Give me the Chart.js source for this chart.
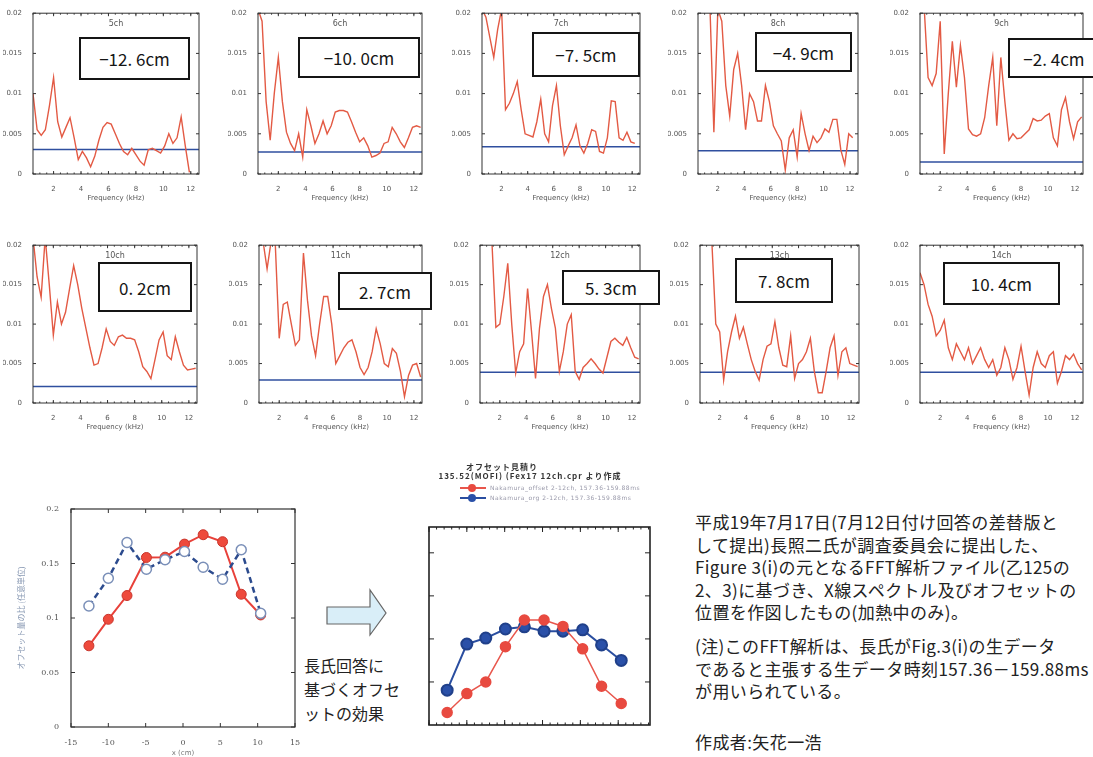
<!DOCTYPE html>
<html>
<head>
<meta charset="utf-8">
<script src="https://cdn.jsdelivr.net/npm/chart.js@4"></script>
<style>
  body { margin: 0; width: 1093px; height: 757px; background: #fff; position: relative; overflow: hidden; font-family: "Noto Sans CJK JP", sans-serif; }
  canvas { position: absolute; }
  .tag { position: absolute; border: 2.5px solid #151515; background: #fff; box-sizing: border-box; display: flex; align-items: center; justify-content: center; font-family: "Noto Sans CJK JP", sans-serif; font-size: 17px; color: #151515; white-space: nowrap; }
  .txt { position: absolute; color: #222; white-space: nowrap; }
  .note { left: 695px; font-size: 17px; line-height: 22.5px; letter-spacing: 0.4px; }
</style>
</head>
<body>

<svg style="position:absolute;left:320px;top:585px" width="75" height="55">
  <polygon points="7,22 50,22 50,5 66,28 50,50 50,39 7,39" fill="#d9eef8" stroke="#666" stroke-width="1.2"/>
</svg>

<div class="txt" style="left:304px;top:653px;font-size:16px;line-height:24px;">長氏回答に<br>基づくオフセ<br>ットの効果</div>

<div class="txt note" style="top:511px;">平成19年7月17日(7月12日付け回答の差替版と<br>して提出)長照二氏が調査委員会に提出した、<br>Figure 3(i)の元となるFFT解析ファイル(乙125の<br>2、3)に基づき、X線スペクトル及びオフセットの<br>位置を作図したもの(加熱中のみ)。</div>
<div class="txt note" style="top:635px;">(注)このFFT解析は、長氏がFig.3(i)の生データ<br>であると主張する生データ時刻157.36－159.88ms<br>が用いられている。</div>
<div class="txt note" style="top:731px;">作成者:矢花一浩</div>

<script>
// ---- spectra (amplitude in units of 1e-3) ----
const freqKHz = [0.5, 0.8, 1.1, 1.4, 1.7, 2.0, 2.3, 2.6, 2.9, 3.2, 3.5, 3.8, 4.1, 4.4, 4.7, 5.0, 5.3, 5.6, 5.9, 6.2, 6.5,
                 6.8, 7.1, 7.4, 7.7, 8.0, 8.3, 8.6, 8.9, 9.2, 9.5, 9.8, 10.1, 10.4, 10.7, 11.0, 11.3, 11.6, 11.9, 12.2, 12.5];

const ch5  = [10.0, 5.5, 4.8, 5.5, 8.5, 12.0, 6.5, 4.6, 5.8, 7.0, 4.5, 1.8, 2.8, 2.0, 0.9, 2.2, 4.2, 5.8, 6.4, 6.2, 5.0,
              3.8, 2.8, 2.4, 3.2, 2.4, 1.6, 1.1, 3.0, 3.2, 2.9, 2.6, 3.5, 5.0, 3.8, 4.5, 7.1, 3.5, 0.2, null, null];
const ch6  = [20.5, 19.0, 9.0, 4.2, 10.0, 14.5, 9.0, 5.2, 3.8, 2.9, 5.0, 2.1, 8.0, 6.0, 3.8, 5.0, 6.6, 5.0, 6.0, 7.7, 7.9,
              7.9, 7.7, 6.5, 5.2, 4.0, 4.5, 3.5, 2.1, 2.3, 2.6, 3.8, 4.0, 5.8, 5.0, 4.0, 3.3, 4.5, 5.8, 6.0, 5.8];
const ch7  = [20.5, 19.5, 17.0, 14.5, 18.0, 20.5, 8.0, 8.8, 10.0, 11.5, 8.0, 5.0, 4.8, 4.6, 6.5, 9.3, 5.0, 4.0, 8.5, 11.0, 6.0,
              2.4, 3.5, 4.5, 6.1, 3.5, 2.6, 3.8, 5.5, 5.3, 2.8, 2.6, 4.5, 9.1, 9.0, 4.5, 4.2, 5.2, 4.0, 3.8, null];
const ch8  = [24, 24, 23, 21, 5.2, 20.5, 19.0, 11.0, 7.2, 13.0, 15.0, 11.0, 5.5, 10.0, 9.0, 6.6, 6.6, 11.0, 9.0, 6.0, 5.0,
              4.1, 0.5, 4.5, 5.5, 2.1, 7.5, 5.0, 2.9, 4.7, 3.9, 4.5, 5.6, 5.2, 6.8, 6.8, 3.0, 1.2, 5.0, 4.5, null];
const ch9  = [21, 21, 12.0, 11.0, 12.5, 19.0, 2.5, 10.0, 16.5, 10.8, 16.0, 12.0, 5.6, 4.9, 4.7, 5.0, 7.0, 11.0, 14.5, 6.0, 14.5,
              9.0, 4.2, 5.0, 4.4, 4.5, 5.0, 5.5, 6.9, 6.6, 6.7, 7.2, 7.5, 4.5, 3.5, 8.0, 9.5, 6.5, 4.4, 6.5, 7.1];
const ch10 = [21, 16.0, 13.4, 21, 15.0, 8.6, 12.8, 10.0, 11.5, 14.5, 17.4, 15.0, 12.0, 9.5, 7.0, 4.8, 5.0, 7.0, 9.4, 7.8, 7.3,
              8.4, 8.6, 8.2, 8.2, 8.0, 6.5, 4.6, 4.0, 3.1, 5.5, 8.0, 9.0, 6.0, 5.5, 8.4, 6.5, 4.8, 4.2, 4.3, 4.4];
const ch11 = [20, 20.5, 17.0, 20.5, 20.5, 8.2, 12.5, 12.8, 10.0, 7.3, 8.0, 19.0, 13.0, 8.5, 6.0, 10.0, 13.5, 13.5, 10.0, 5.0, 6.0,
              7.0, 7.7, 8.0, 6.5, 4.5, 3.6, 4.5, 6.5, 9.4, 7.5, 5.0, 4.6, 6.9, 6.3, 4.0, 0.8, 3.5, 4.8, 5.0, 3.3];
const ch12 = [22, 22, 21, 20.5, 9.6, 10.0, 13.5, 17.7, 10.0, 3.8, 6.5, 7.5, 14.5, 9.0, 3.1, 9.5, 13.5, 15.0, 12.0, 9.5, 4.0,
              6.5, 10.0, 11.2, 4.0, 3.0, 4.5, 5.0, 5.6, 5.0, 4.3, 3.8, 5.8, 7.8, 8.2, 7.7, 7.3, 8.3, 7.0, 5.8, 5.6];
const ch13 = [22, 22, 21, 20.5, 10.0, 9.0, 2.9, 6.5, 9.0, 11.0, 8.2, 9.6, 7.5, 5.5, 4.0, 2.9, 5.5, 7.2, 7.5, 10.3, 7.0,
              4.8, 4.6, 8.5, 3.1, 5.0, 5.5, 6.5, 8.2, 4.0, 1.3, 1.3, 4.0, 7.0, 8.5, 3.5, 6.5, 7.0, 5.0, 4.8, 4.6];
const ch14 = [16.5, 15.0, 12.5, 11.0, 8.5, 9.2, 10.5, 7.0, 5.5, 7.5, 6.5, 5.5, 7.0, 5.0, 6.0, 7.0, 5.5, 4.5, 5.5, 3.5, 4.5,
              7.0, 5.5, 3.0, 4.5, 7.2, 4.0, 1.0, 4.5, 6.5, 5.0, 4.5, 6.0, 6.5, 2.5, 4.0, 6.0, 5.5, 6.2, 5.0, 4.2];

const spectra = [ch5, ch6, ch7, ch8, ch9, ch10, ch11, ch12, ch13, ch14];
const noiseLevel = [3.05, 2.75, 3.4, 2.9, 1.5, 2.1, 2.9, 3.9, 3.9, 3.9];
const channelNames = ['5ch', '6ch', '7ch', '8ch', '9ch', '10ch', '11ch', '12ch', '13ch', '14ch'];
const offsetLabels = ['−12. 6cm', '−10. 0cm', '−7. 5cm', '−4. 9cm', '−2. 4cm', '0. 2cm', '2. 7cm', '5. 3cm', '7. 8cm', '10. 4cm'];
const spectrumXTicks = [2, 4, 6, 8, 10, 12];
const spectrumYTicks = [0, 0.005, 0.01, 0.015, 0.02];

// ---- offset plots ----
const positionCm = [-12.6, -10.0, -7.5, -4.9, -2.4, 0.2, 2.7, 5.3, 7.8, 10.4];
const fig3Red  = [0.0745, 0.0988, 0.1206, 0.1555, 0.1558, 0.1678, 0.1764, 0.170, 0.1218, 0.1028];
const fig3Blue = [0.111, 0.1365, 0.1693, 0.1448, 0.1534, 0.161, 0.1466, 0.1356, 0.1626, 0.1043];
const fig3XTicks = [-15, -10, -5, 0, 5, 10, 15];
const fig3YTicks = [0, 0.05, 0.1, 0.15, 0.2];
const fftRed  = [0.29, 0.73, 1.0, 1.82, 2.44, 2.44, 2.29, 1.77, 0.9, 0.5];
const fftBlue = [0.81, 1.88, 2.02, 2.23, 2.28, 2.18, 2.18, 2.21, 1.86, 1.5];
const fftTitle = ['オフセット見積り', '135.52(MOFI) (Fex17 12ch.cpr より作成'];
const fftLegend = ['Nakamura_offset 2-12ch, 157.36-159.88ms', 'Nakamura_org 2-12ch, 157.36-159.88ms'];

// layout of the small spectrum plots (plot-area edges in page px)
const plotBoxes = [
  { l: 33, r: 199, t: 12, b: 174 }, { l: 258, r: 422, t: 12, b: 174 }, { l: 482, r: 640, t: 12, b: 174 },
  { l: 698, r: 858, t: 12, b: 174 }, { l: 920, r: 1083, t: 12, b: 174 },
  { l: 33, r: 197, t: 244, b: 403 }, { l: 259, r: 422, t: 244, b: 403 }, { l: 480, r: 640, t: 244, b: 403 },
  { l: 700, r: 859, t: 244, b: 403 }, { l: 920, r: 1083, t: 244, b: 403 }
];
const tagBoxes = [
  [79, 37, 111, 43], [298, 37, 122, 41], [532, 32, 108, 45], [755, 32, 97, 40], [1008, 38, 92, 40],
  [98, 262, 94, 50], [338, 272, 94, 38], [562, 270, 98, 35], [735, 258, 98, 45], [943, 262, 117, 43]
];

// box around the plot area with inward tick marks
const frame = {
  id: 'frame',
  afterDatasetsDraw(chart, args, o) {
    const { ctx, chartArea: a, scales: { x, y } } = chart;
    ctx.save();
    ctx.strokeStyle = o.color;
    ctx.lineWidth = o.lineWidth;
    ctx.strokeRect(a.left, a.top, a.right - a.left, a.bottom - a.top);
    ctx.lineWidth = 1;
    ctx.beginPath();
    const tx = (v, len) => {
      const p = x.getPixelForValue(v);
      ctx.moveTo(p, a.bottom); ctx.lineTo(p, a.bottom - len);
      ctx.moveTo(p, a.top); ctx.lineTo(p, a.top + len);
    };
    const ty = (v, len) => {
      const p = y.getPixelForValue(v);
      ctx.moveTo(a.left, p); ctx.lineTo(a.left + len, p);
      ctx.moveTo(a.right, p); ctx.lineTo(a.right - len, p);
    };
    x.ticks.forEach(t => tx(t.value, o.tick));
    y.ticks.forEach(t => ty(t.value, o.tick));
    if (o.minorX) {
      for (let v = Math.ceil(x.min / o.minorX) * o.minorX; v <= x.max; v += o.minorX) tx(v, o.tick / 2);
    }
    ctx.stroke();
    if (o.label) {
      ctx.fillStyle = '#555';
      ctx.font = '8px "DejaVu Sans"';
      ctx.textAlign = 'center';
      ctx.fillText(o.label, (a.left + a.right) / 2, a.top + 13);
    }
    ctx.restore();
  }
};

function addCanvas(left, top, w, h) {
  const cv = document.createElement('canvas');
  cv.width = w; cv.height = h;
  cv.style.left = left + 'px'; cv.style.top = top + 'px';
  cv.style.width = w + 'px'; cv.style.height = h + 'px';
  document.body.appendChild(cv);
  return cv;
}

const small = { size: 7, family: 'DejaVu Sans' };

function makeSpectrum(i) {
  const b = plotBoxes[i];
  const padL = 30, padT = 6, padR = 8, padB = 28;
  const cv = addCanvas(b.l - padL, b.t - padT, b.r - b.l + padL + padR, b.b - b.t + padT + padB);
  const xMin = 0.5, xMax = 12.6;
  new Chart(cv, {
    type: 'line',
    data: {
      datasets: [
        {
          data: freqKHz.map((f, k) => ({ x: f, y: spectra[i][k] == null ? null : spectra[i][k] / 1000 })),
          borderColor: '#e35a44', borderWidth: 1.4, pointRadius: 0, tension: 0
        },
        {
          data: [{ x: xMin, y: noiseLevel[i] / 1000 }, { x: xMax, y: noiseLevel[i] / 1000 }],
          borderColor: '#2f4f9f', borderWidth: 1.5, pointRadius: 0
        }
      ]
    },
    options: {
      responsive: false, animation: false, devicePixelRatio: 1,
      layout: { padding: { top: padT, right: padR, left: 0, bottom: 0 } },
      plugins: {
        legend: { display: false }, tooltip: { enabled: false },
        frame: { color: '#333', lineWidth: 1, tick: 3, minorX: 0.5, label: channelNames[i] }
      },
      scales: {
        x: {
          type: 'linear', min: xMin, max: xMax,
          grid: { display: false }, border: { display: false },
          afterBuildTicks: s => { s.ticks = spectrumXTicks.map(v => ({ value: v })); },
          afterFit: s => { s.height = padB; },
          ticks: { font: small, color: '#555', padding: 3, maxRotation: 0, autoSkip: false },
          title: { display: true, text: 'Frequency (kHz)', font: small, color: '#555', padding: { top: 1, bottom: 0 } }
        },
        y: {
          min: 0, max: 0.02,
          grid: { display: false }, border: { display: false },
          afterBuildTicks: s => { s.ticks = spectrumYTicks.map(v => ({ value: v })); },
          afterFit: s => { s.width = padL; },
          ticks: { font: small, color: '#555', padding: 3, callback: v => String(v) }
        }
      }
    },
    plugins: [frame]
  });

  const t = tagBoxes[i];
  const tag = document.createElement('div');
  tag.className = 'tag';
  tag.style.left = t[0] + 'px'; tag.style.top = t[1] + 'px';
  tag.style.width = t[2] + 'px'; tag.style.height = t[3] + 'px';
  tag.textContent = offsetLabels[i];
  document.body.appendChild(tag);
}

for (let i = 0; i < spectra.length; i++) makeSpectrum(i);

// ---- bottom left: Figure 3(i) offsets ----
(function () {
  const padL = 71, padT = 14, padR = 10, padB = 30;
  const cv = addCanvas(0, 509 - padT, 295 + padR, 727 - 509 + padT + padB);
  new Chart(cv, {
    type: 'line',
    data: {
      datasets: [
        {
          data: positionCm.map((x, k) => ({ x, y: fig3Blue[k] })),
          borderColor: '#2c4b8e', borderWidth: 2.5, borderDash: [6, 4],
          pointRadius: 5, pointBackgroundColor: '#fff', pointBorderColor: '#7a8fb8', pointBorderWidth: 1.5
        },
        {
          data: positionCm.map((x, k) => ({ x, y: fig3Red[k] })),
          borderColor: '#e8413a', borderWidth: 2,
          pointRadius: 5, pointBackgroundColor: '#ee4a3c', pointBorderColor: '#c8352c', pointBorderWidth: 1
        }
      ]
    },
    options: {
      responsive: false, animation: false, devicePixelRatio: 1,
      layout: { padding: { top: padT, right: padR, left: 0, bottom: 0 } },
      plugins: {
        legend: { display: false }, tooltip: { enabled: false },
        frame: { color: '#333', lineWidth: 1.2, tick: 4 }
      },
      scales: {
        x: {
          type: 'linear', min: -15, max: 15,
          grid: { display: false }, border: { display: false },
          afterBuildTicks: s => { s.ticks = fig3XTicks.map(v => ({ value: v })); },
          afterFit: s => { s.height = padB; },
          ticks: { font: { size: 8, family: 'DejaVu Serif' }, color: '#555', padding: 3, maxRotation: 0, autoSkip: false },
          title: { display: true, text: 'x (cm)', font: { size: 7, family: 'DejaVu Sans' }, color: '#777', padding: { top: 0, bottom: 0 } }
        },
        y: {
          min: 0, max: 0.2,
          grid: { display: false }, border: { display: false },
          afterBuildTicks: s => { s.ticks = fig3YTicks.map(v => ({ value: v })); },
          afterFit: s => { s.width = padL; },
          ticks: { font: { size: 8, family: 'DejaVu Serif' }, color: '#555', padding: 4, callback: v => String(v) },
          title: { display: true, text: 'オフセット量の比 (任意単位)', font: { size: 8, family: 'Noto Sans CJK JP' }, color: '#8a9ab4', padding: { top: 16, bottom: 0 } }
        }
      }
    },
    plugins: [frame]
  });
})();

// ---- bottom middle: offsets from the FFT file ----
(function () {
  const header = {
    id: 'header',
    afterDraw(chart, args, o) {
      const ctx = chart.ctx;
      ctx.save();
      ctx.textBaseline = 'middle';
      ctx.textAlign = 'center';
      ctx.fillStyle = '#333';
      ctx.font = 'bold 8px "Noto Sans CJK JP"';
      ctx.letterSpacing = '1px';
      fftTitle.forEach((t, k) => ctx.fillText(t, o.titleX[k], o.titleY[k]));
      ctx.textAlign = 'left';
      ctx.font = '6px "DejaVu Sans"';
      ctx.letterSpacing = '0.5px';
      chart.data.datasets.forEach((ds, k) => {
        const y = o.legendY[k];
        ctx.strokeStyle = ds.borderColor;
        ctx.lineWidth = 2;
        ctx.beginPath(); ctx.moveTo(o.legendX, y); ctx.lineTo(o.legendX + 26, y); ctx.stroke();
        ctx.fillStyle = ds.pointBackgroundColor;
        ctx.beginPath(); ctx.arc(o.legendX + 12, y, 4, 0, Math.PI * 2); ctx.fill();
        ctx.fillStyle = '#99a';
        ctx.fillText(fftLegend[k], o.legendX + 30, y);
      });
      ctx.restore();
    }
  };
  const left = 409, top = 455;
  const cv = addCanvas(left, top, 251, 725 - top + 12);
  new Chart(cv, {
    type: 'line',
    data: {
      datasets: [
        {
          data: positionCm.map((x, k) => ({ x, y: fftRed[k] })),
          borderColor: '#e8564c', borderWidth: 1.5,
          pointRadius: 5, pointBackgroundColor: '#e84a40', pointBorderColor: '#e84a40'
        },
        {
          data: positionCm.map((x, k) => ({ x, y: fftBlue[k] })),
          borderColor: '#2a4ea0', borderWidth: 2,
          pointRadius: 5.5, pointBackgroundColor: '#2a50a8', pointBorderColor: '#20408a'
        }
      ]
    },
    options: {
      responsive: false, animation: false, devicePixelRatio: 1,
      layout: { padding: { top: 527 - top, right: 10, left: 20, bottom: 12 } },
      plugins: {
        legend: { display: false }, tooltip: { enabled: false },
        frame: { color: '#222', lineWidth: 1.6, tick: 5, minorX: 1 },
        header: { titleX: [93, 121], titleY: [12, 21], legendX: 51, legendY: [33, 43] }
      },
      scales: {
        x: {
          type: 'linear', min: -15, max: 14.2,
          grid: { display: false }, border: { display: false },
          afterBuildTicks: s => { s.ticks = [-15, -10, -5, 0, 5, 10].map(v => ({ value: v })); },
          afterFit: s => { s.height = 0; },
          ticks: { display: false }
        },
        y: {
          min: 0, max: 4.6,
          grid: { display: false }, border: { display: false },
          afterBuildTicks: s => { s.ticks = [1, 2, 3, 4].map(v => ({ value: v })); },
          afterFit: s => { s.width = 0; },
          ticks: { display: false }
        }
      }
    },
    plugins: [frame, header]
  });
})();
</script>
</body>
</html>
